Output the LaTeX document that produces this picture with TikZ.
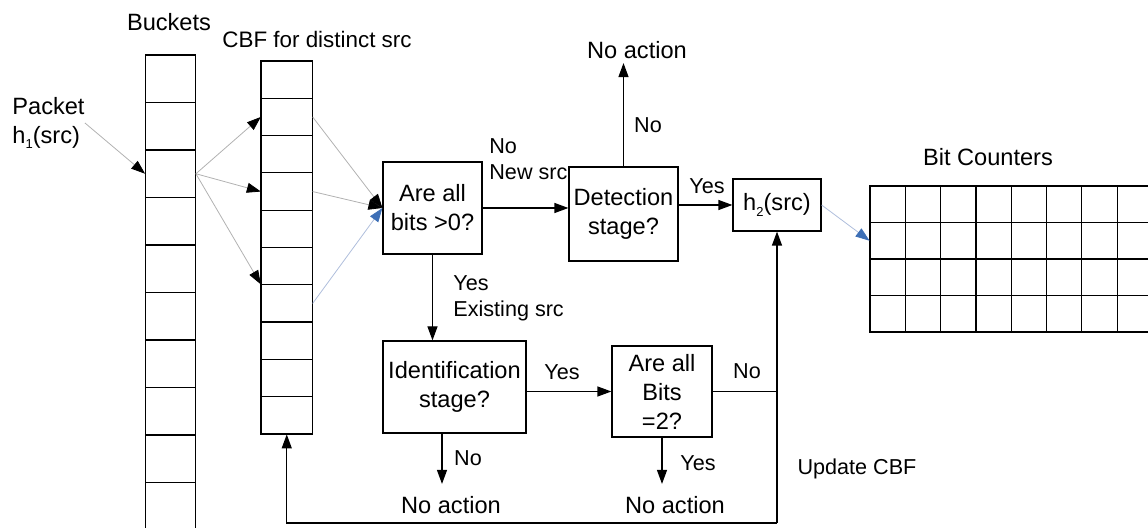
\documentclass[tikz,border=0pt]{standalone}
\usepackage{fontspec}
\setmainfont{Liberation Sans}
\usetikzlibrary{arrows.meta}
\definecolor{headblue}{RGB}{61,111,182}
\definecolor{lineblue}{RGB}{175,190,220}
\newcommand{\sub}[1]{\raisebox{-0.45ex}{\fontsize{6.5}{7}\selectfont #1}}

\begin{document}
\begin{tikzpicture}[y=-0.5pt, x=0.5pt, font=\fontsize{11.8}{14.5}\selectfont,
  box/.style={draw, line width=0.6pt, align=center, inner sep=1pt},
  cell/.style={inner sep=0pt},
  grd/.style={line width=0.6pt, line cap=rect},
  lbl/.style={font=\fontsize{10.8}{13}\selectfont, inner sep=1pt},
  arr/.style={line width=0.6pt, -{Triangle[length=7pt,width=5pt]}},
  thinarr/.style={draw=black!30, line width=0.4pt, -{Triangle[length=7pt,width=5pt,color=black]}},
  bluearr/.style={draw=lineblue, line width=0.4pt, -{Triangle[length=7pt,width=5pt,color=headblue]}}]
\useasboundingbox (0,0) rectangle (1148,528);

\foreach \i in {1,...,10}
  \node[cell, minimum width=25pt, minimum height=23.75pt] (b\i) at (170.5,{55+47.5*(\i-0.5)}) {};
\foreach \i in {1,...,10}
  \node[cell, minimum width=25.5pt, minimum height=18.65pt] (c\i) at (286.75,{61+37.3*(\i-0.5)}) {};
\foreach \r in {1,...,4}
  \foreach \c in {1,...,8}
    \node[cell, minimum width=17.65pt, minimum height=18.25pt] (k\r\c) at ({870+35.3*(\c-0.5)},{186+36.5*(\r-0.5)}) {};

\draw[grd] (145.5,55) -- (145.5,540) (195.5,55) -- (195.5,540);
\foreach \i in {0,...,10}
  \draw[grd] (145.5,{55+47.5*\i}) -- (195.5,{55+47.5*\i});
\draw[grd] (261,61) rectangle (312.5,434);
\foreach \i in {1,...,9}
  \draw[grd] (261,{61+37.3*\i}) -- (312.5,{61+37.3*\i});
\foreach \c in {0,...,7}
  \draw[grd] ({870+35.3*\c},186) -- ({870+35.3*\c},332);
\foreach \r in {0,...,4}
  \draw[grd] (870,{186+36.5*\r}) -- (1160,{186+36.5*\r});

\node (bkt) at (169,22) {Buckets};
\node[lbl, font=\fontsize{11.2}{13}\selectfont] (cbf) at (317,40) {CBF for distinct src};
\node (cnt) at (988,157) {Bit Counters};
\node[align=left, anchor=west, inner sep=0pt] (pkt) at (12,123) {Packet\\h\sub{1}(src)};

\node[box, minimum width=49.5pt, minimum height=46pt] (are) at (432.5,208) {Are all\\bits >0?};
\node[box, minimum width=54.5pt, minimum height=47pt] (det) at (623.5,214) {Detection\\stage?};
\node[box, minimum width=44pt, minimum height=26pt] (h2) at (777,205) {h\sub{2}(src)};
\node[box, minimum width=71.5pt, minimum height=46pt] (ident) at (454.5,387) {Identification\\stage?};
\node[box, minimum width=50pt, minimum height=45.5pt] (bits) at (662,391.5) {Are all\\Bits\\=2?};

\node[inner sep=2pt] (na1) at (637,50) {No action};
\node[inner sep=2pt] (na2) at (451,505) {No action};
\node[inner sep=2pt] (na3) at (675,505) {No action};

\node[lbl] (no1) at (648,125) {No};
\node[lbl, align=left, anchor=west] (newsrc) at (487,159) {No\\New src};
\node[lbl] (yes1) at (707,186) {Yes};
\node[lbl, align=left, anchor=west] (exist) at (451,298.5) {Yes\\Existing src};
\node[lbl] (yes2) at (562,372) {Yes};
\node[lbl] (no2) at (747,371) {No};
\node[lbl] (no3) at (468,458) {No};
\node[lbl] (yes3) at (698,463) {Yes};
\node[lbl] (upd) at (857,469) {Update CBF};

\draw[thinarr] (pkt.east) -- (b3.west);
\draw[thinarr] (b3.east) -- (c2.west);
\draw[thinarr] (b3.east) -- (c4.west);
\draw[thinarr] (b3.east) -- (c7.north west);
\draw[thinarr] (c2.east) -- (are.west);
\draw[thinarr] (c4.east) -- (are.west);
\draw[bluearr] (c7.east) -- (are.west);
\draw[bluearr] (h2.east) -- (k21.west);

\draw[arr] (are) -- (are -| det.west);
\draw[arr] (det.east |- h2) -- (h2);
\draw[arr] (det) -- (det |- na1.south);
\draw[arr] (are.south) -- (are.south |- ident.north);
\draw[arr] (ident.east |- bits) -- (bits);
\draw[arr, shorten >=4pt] ([xshift=-4.5pt]na2.north |- ident.south) -- ([xshift=-4.5pt]na2.north);
\draw[arr, shorten >=4pt] (bits) -- (bits |- na3.north);

\coordinate (jn) at (h2.south |- bits.east);
\coordinate (bot) at (h2.south |- 0,523);
\draw[line width=0.6pt] (bits.east) -- (jn);
\draw[arr] (bot) -- (h2.south);
\draw[arr] (bot) -| (c10.south);
\end{tikzpicture}
\end{document}
